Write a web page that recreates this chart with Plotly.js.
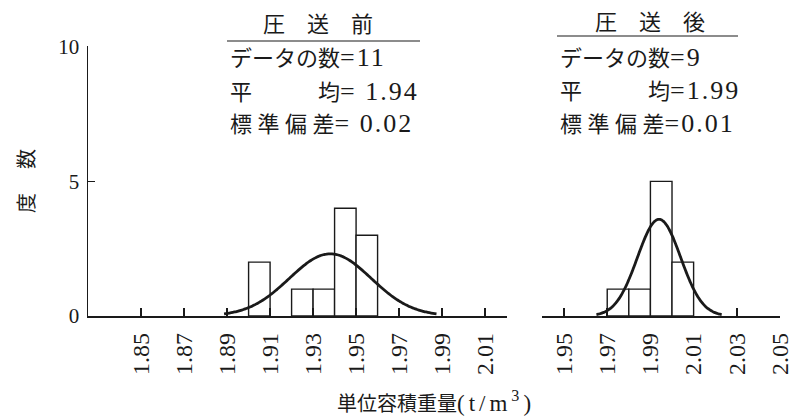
<!DOCTYPE html>
<html>
<head>
<meta charset="utf-8">
<script src="https://cdn.plot.ly/plotly-3.0.1.min.js"></script>
<style>
  html, body { margin: 0; padding: 0; background: #ffffff; }
  #chart { width: 794px; height: 417px; }
</style>
</head>
<body>
<div id="chart"></div>
<script>
// Histogram bins (left edge of each 0.01-wide class) and their frequencies
const binWidth = 0.01;
const beforeBinStart = [1.90, 1.92, 1.93, 1.94, 1.95];
const beforeCounts   = [2, 1, 1, 4, 3];
const afterBinStart  = [1.97, 1.98, 1.99, 2.00];
const afterCounts    = [1, 1, 5, 2];

// Sample statistics; the printed values are these rounded to two decimals
const beforeN = 11, beforeMean = 1.938, beforeSd = 0.019;
const afterN  = 9,  afterMean  = 1.994, afterSd  = 0.010;

// Axis ticks
const beforeTicks = [1.85, 1.87, 1.89, 1.91, 1.93, 1.95, 1.97, 1.99, 2.01];
const beforeTickText = ["1.85", "1.87", "1.89", "1.91", "1.93", "1.95", "1.97", "1.99", "2.01"];
const afterTicks = [1.95, 1.97, 1.99, 2.01, 2.03, 2.05];
const afterTickText = ["1.95", "1.97", "1.99", "2.01", "2.03", "2.05"];
const freqTicks = [0, 5, 10];
const freqTickText = ["0", "5", "10"];

// Texts
const beforeHead = "圧\u3000送\u3000前";
const afterHead  = "圧\u3000送\u3000後";
const countLabel = "データの数";
const meanLabel  = "平\u3000\u3000\u3000均";
const sdLabel    = "標 準 偏 差";
const yTitle     = "度\u3000\u2009数";
const xTitleMain = "単位容積重量";
const xTitleUnit = "(t/m<sup>3</sup>)";

const INK = "#1a1a1a";
const SERIF = "Liberation Serif, Noto Sans CJK JP, serif";

// Normal curve scaled to the histogram: n * binWidth * density
function normalCurve(n, mean, sd, spanSd) {
  const xs = [], ys = [];
  const steps = 120;
  const lo = mean - spanSd * sd, hi = mean + spanSd * sd;
  for (let i = 0; i <= steps; i++) {
    const x = lo + (hi - lo) * i / steps;
    const z = (x - mean) / sd;
    xs.push(x);
    ys.push(n * binWidth * Math.exp(-0.5 * z * z) / (sd * Math.sqrt(2 * Math.PI)));
  }
  return { x: xs, y: ys };
}

const beforeCurve = normalCurve(beforeN, beforeMean, beforeSd, 2.6);
const afterCurve  = normalCurve(afterN, afterMean, afterSd, 2.9);

const barStyle = { color: "#ffffff", line: { color: INK, width: 1.4 } };

const traces = [
  { type: "bar", x: beforeBinStart, y: beforeCounts, width: binWidth, offset: 0,
    marker: barStyle, xaxis: "x", yaxis: "y", hoverinfo: "skip" },
  { type: "bar", x: afterBinStart, y: afterCounts, width: binWidth, offset: 0,
    marker: barStyle, xaxis: "x2", yaxis: "y", hoverinfo: "skip" },
  { type: "scatter", mode: "lines", x: beforeCurve.x, y: beforeCurve.y,
    line: { color: INK, width: 2.8, shape: "spline" }, xaxis: "x", yaxis: "y", hoverinfo: "skip" },
  { type: "scatter", mode: "lines", x: afterCurve.x, y: afterCurve.y,
    line: { color: INK, width: 2.8, shape: "spline" }, xaxis: "x2", yaxis: "y", hoverinfo: "skip" }
];

// Plot area: left 88px, right edge 780px, top 46px, baseline 316px
const PL = 88, PR = 780, PT = 46, PB = 316;
const px = v => (v - PL) / (PR - PL);
const py = v => (PB - v) / (PB - PT);

// Numbers in the statistics block are set larger and slightly tracked
const num = s => '<span style="font-size:26px;letter-spacing:2px">' + s + '</span>';

const xAxisCommon = {
  showline: true, linecolor: INK, linewidth: 1.5,
  ticks: "inside", ticklen: 8, tickwidth: 1.5, tickcolor: INK,
  tickangle: -90, tickfont: { family: SERIF, size: 24, color: INK },
  ticklabelstandoff: 6,
  showgrid: false, zeroline: false, fixedrange: true, anchor: "y"
};

function textRow(x, y, text, anchor) {
  return { xref: "paper", yref: "paper", x: px(x), y: py(y), text: text,
    showarrow: false, xanchor: anchor || "left", yanchor: "middle",
    font: { family: SERIF, size: 22, color: INK } };
}

const layout = {
  width: 794, height: 417,
  margin: { l: PL, r: 794 - PR, t: PT, b: 417 - PB, pad: 0 },
  paper_bgcolor: "#ffffff", plot_bgcolor: "#ffffff",
  showlegend: false, barmode: "overlay",
  xaxis: Object.assign({}, xAxisCommon, {
    domain: [0, px(507)], range: [1.8253, 2.0202],
    tickvals: beforeTicks, ticktext: beforeTickText
  }),
  xaxis2: Object.assign({}, xAxisCommon, {
    domain: [px(542), 1], range: [1.9398, 2.05],
    tickvals: afterTicks, ticktext: afterTickText
  }),
  yaxis: {
    range: [0, 10.03], showline: true, linecolor: INK, linewidth: 1.5,
    ticks: "inside", ticklen: 7, tickwidth: 1.5, tickcolor: INK,
    tickvals: freqTicks, ticktext: freqTickText,
    tickfont: { family: SERIF, size: 21, color: INK },
    ticklabelstandoff: 3,
    showgrid: false, zeroline: false, fixedrange: true,
    title: { text: yTitle, font: { family: SERIF, size: 20, color: INK }, standoff: 18 }
  },
  shapes: [
    { type: "line", xref: "paper", yref: "paper", x0: px(227), x1: px(420), y0: py(41), y1: py(41),
      line: { color: INK, width: 1.2 } },
    { type: "line", xref: "paper", yref: "paper", x0: px(557), x1: px(738), y0: py(36), y1: py(36),
      line: { color: INK, width: 1.2 } }
  ],
  annotations: [
    textRow(318, 24, beforeHead, "center"),
    textRow(228, 58, countLabel + num("=" + beforeN)),
    textRow(228, 91, meanLabel + num("= " + beforeMean.toFixed(2))),
    textRow(228, 124, sdLabel + num("= " + beforeSd.toFixed(2))),
    textRow(650, 22, afterHead, "center"),
    textRow(558, 57, countLabel + num("=" + afterN)),
    textRow(558, 90, meanLabel + num("=" + afterMean.toFixed(2))),
    textRow(558, 123, sdLabel + num("=" + afterSd.toFixed(2))),
    { xref: "paper", yref: "paper", x: px(436), y: py(401),
      text: xTitleMain + '<span style="font-size:23px;letter-spacing:4px">' + xTitleUnit + '</span>',
      showarrow: false, xanchor: "center", yanchor: "middle",
      font: { family: SERIF, size: 20, color: INK } }
  ]
};

Plotly.newPlot("chart", traces, layout, { staticPlot: true, displayModeBar: false });
</script>
</body>
</html>
